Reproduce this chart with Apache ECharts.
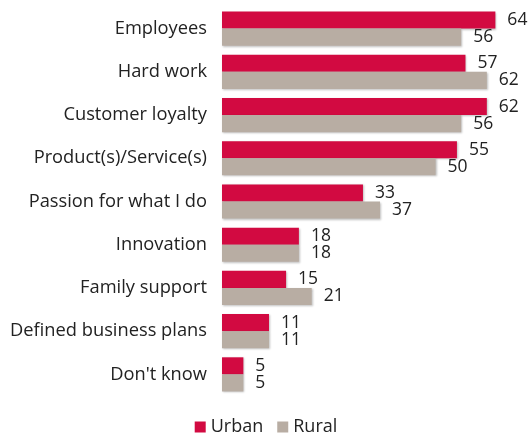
<!DOCTYPE html>
<html><head><meta charset="utf-8">
<script src="https://cdn.jsdelivr.net/npm/echarts@6/dist/echarts.min.js"></script>
<style>html,body{margin:0;padding:0;background:#fff}#c{width:532px;height:439px}</style>
</head><body><div id="c"></div>
<script>
const categories = ["Employees","Hard work","Customer loyalty","Product(s)/Service(s)","Passion for what I do","Innovation","Family support","Defined business plans","Don't know"];
const urban = [64,57,62,55,33,18,15,11,5];
const rural = [56,62,56,50,37,18,21,11,5];
const seriesNames = ["Urban","Rural"];
const FONT = "Open Sans";
const chart = echarts.init(document.getElementById('c'));
const lbl = {show:true, position:'right', distance:12, fontSize:17.5, color:'#222', fontFamily:FONT};
chart.setOption({
  animation:false,
  grid:{left:222, right:11, top:7, bottom:43, containLabel:false},
  xAxis:{type:'value', min:0, max:70, show:false},
  yAxis:{type:'category', data:categories, inverse:true,
    axisLine:{show:false}, axisTick:{show:false},
    axisLabel:{fontSize:18.3, color:'#222', fontFamily:FONT, margin:15}},
  legend:{bottom:-2, left:'center', itemWidth:11, itemHeight:11, itemGap:14,
    textStyle:{fontSize:18, color:'#222', fontFamily:FONT},
    data:seriesNames.map(n=>({name:n, icon:'rect'}))},
  series:[
    {name:seriesNames[0], type:'bar', data:urban, barGap:'0%', barCategoryGap:'21%',
     itemStyle:{color:'#D20A41', shadowColor:'rgba(0,0,0,0.25)', shadowBlur:2, shadowOffsetX:1, shadowOffsetY:1}, label:lbl},
    {name:seriesNames[1], type:'bar', data:rural,
     itemStyle:{color:'#B8ADA3', shadowColor:'rgba(0,0,0,0.25)', shadowBlur:2, shadowOffsetX:1, shadowOffsetY:1}, label:lbl}
  ]
});
</script></body></html>
